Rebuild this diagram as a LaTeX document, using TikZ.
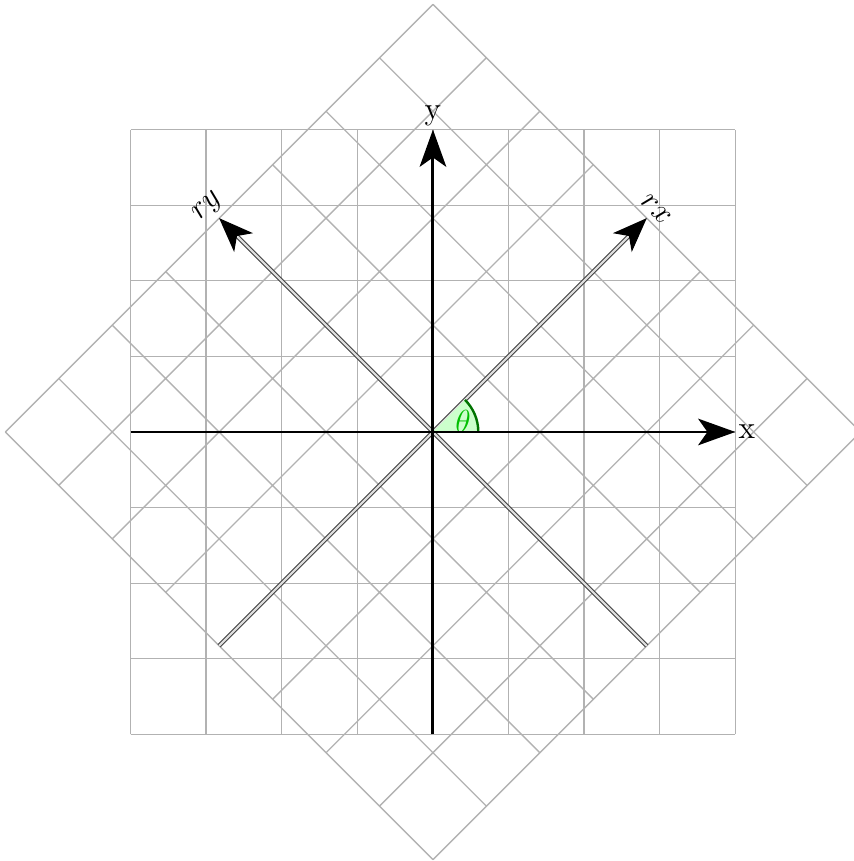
\documentclass[tikz,border=0pt]{standalone}
\usepackage{amsmath}
\usetikzlibrary{arrows.meta,calc}

\begin{document}
\begin{tikzpicture}
% Frame of the picture.
\useasboundingbox (-5.727,-5.675) rectangle (5.569,5.714);

% Looks of the grids and the axes.
\tikzstyle{gridline}=[gray!60,line width=0.5pt]
\tikzstyle{axis}=[line width=1.1pt,-{Stealth[length=14pt,width=10pt,inset=3.5pt]}]
\tikzstyle{raxis}=[double=gray!25,draw=black!75,line width=0.4pt,double distance=0.8pt,
-{Stealth[length=13pt,width=10pt,inset=3.5pt,color=black,fill=black]}]
\tikzstyle{label}=[font=\large,inner sep=1pt]

% This draws the two grids.
\draw[gridline] (-4,-4) grid (4,4);
\draw[gridline,rotate=45] (-4,-4) grid (4,4);

% Points used by the axes.
\coordinate (O) at (0,0);
\coordinate (xl) at (-4,0);
\coordinate (xr) at (4,0);
\coordinate (yb) at (0,-4);
\coordinate (yt) at (0,4);
\coordinate (rxb) at (225:4);
\coordinate (rxt) at (45:4);
\coordinate (ryb) at (-45:4);
\coordinate (ryt) at (135:4);

% This draws the rotated axes.
\draw[raxis] (rxb) -- (rxt);
\draw[raxis] (ryb) -- (ryt);
\node[label,rotate=-45,anchor=south,inner sep=2pt] (rxlabel) at (rxt) {$rx$};
\node[label,rotate=45,anchor=south,inner sep=2pt] (rylabel) at (ryt) {$ry$};

% This draws the angle between x and rx.
\fill[green!20] (O) -- (0.6,0) arc (0:45:0.6) -- cycle;
\draw[green!45!black,line width=0.9pt] (0.6,0) arc (0:45:0.6);
\node[label,text=green!75!black,inner sep=0pt] (theta) at (19:0.42) {$\theta$};

% This draws the x and y axes.
\draw[axis] (xl) -- (xr);
\draw[axis] (yb) -- (yt);
\node[label,anchor=west] (xlabel) at (xr) {x};
\node[label,anchor=south] (ylabel) at (yt) {y};

\end{tikzpicture}
\end{document}
